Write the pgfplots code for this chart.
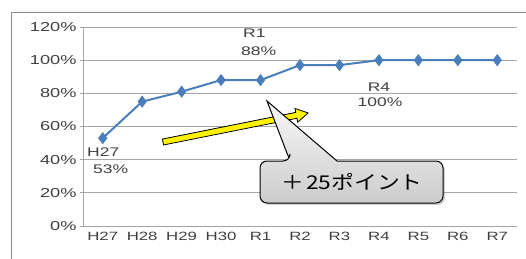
\documentclass[border=0pt]{standalone}
\usepackage{pgfplots}
\pgfplotsset{compat=1.18}
\usepackage{fontspec}
\setmainfont{Liberation Sans}[FakeStretch=1.4]
\newfontfamily\cjk{Noto Sans CJK JP}[FakeStretch=1.2]
\usetikzlibrary{shadows}
\definecolor{txt}{HTML}{404040}
\definecolor{grid}{HTML}{A6A6A6}
\definecolor{line}{HTML}{4A7EBB}
\begin{document}
\begin{tikzpicture}[x=1pt,y=1pt]
\useasboundingbox (0,0) rectangle (526,258);
\begin{scope}
\clip (0,0) rectangle (526,258);
\draw[color=gray!90, line width=0.9pt] (11,-10) rectangle (560,246);
\end{scope}
\begin{axis}[
  at={(83pt,32pt)}, anchor=south west,
  scale only axis, width=434pt, height=199pt,
  xmin=-0.5, xmax=10.5, ymin=0, ymax=120,
  axis x line*=bottom, axis y line*=left,
  axis line style={color=grid, line width=0.8pt},
  xtick={0,...,10},
  xticklabels={H27,H28,H29,H30,R1,R2,R3,R4,R5,R6,R7},
  major x tick style={draw=none},
  extra x ticks={-0.5,0.5,...,10.5},
  extra x tick labels={},
  extra x tick style={grid=none, tick style={color=grid, line width=0.8pt}, tick align=outside, major tick length=4pt},
  ytick={0,20,...,120},
  yticklabel={\pgfmathprintnumber{\tick}\%},
  ymajorgrids, grid style={color=grid, line width=0.8pt},
  tick align=outside, major tick length=3pt,
  y tick style={color=grid, line width=0.8pt},
  tick label style={font=\fontsize{12}{14}\selectfont, color=txt},
  yticklabel style={font=\fontsize{13}{15}\selectfont},
  /pgf/number format/assume math mode=true,
  clip=false,
]
\addplot[color=line, line width=2pt, mark=diamond*, mark size=4.5pt, mark options={fill=line, draw=line}]
coordinates {(0,53) (1,75) (2,81) (3,88) (4,88) (5,97) (6,97) (7,100) (8,100) (9,100) (10,100)};
\end{axis}
% labels
\begin{scope}[every node/.style={inner sep=0pt, font=\fontsize{12.5}{14}\selectfont, text=txt}]
\node[anchor=west] at (243,224.5) {R1};
\node[anchor=west] at (241,207) {88\%};
\node at (379,171) {R4};
\node at (380,156) {100\%};
\node[anchor=west] at (87,106) {H27};
\node[anchor=west] at (93,88.5) {53\%};
\end{scope}
% yellow arrow
\begin{scope}[shift={(163,116)}, rotate=11.31]
\filldraw[fill=yellow, draw=black, line width=0.8pt, line join=miter]
  (0,-3) -- (136,-3) -- (136,-7) -- (148,0) -- (136,7) -- (136,3) -- (0,3) -- cycle;
\end{scope}
% callout
\shade[top color=gray!5, bottom color=gray!40, draw=black, line width=1pt,
  drop shadow={shadow xshift=2pt, shadow yshift=-2pt, opacity=0.35}]
  (290,97) -- (267,157) -- (337,97)
  [rounded corners=7pt] -- (443,97) -- (443,55) -- (260,55) -- (260,97) -- (290,97) -- cycle;
\node[inner sep=0pt] at (352,76) {\cjk\fontsize{19}{22}\selectfont ＋\kern2pt 25ポイント};
\end{tikzpicture}
\end{document}
